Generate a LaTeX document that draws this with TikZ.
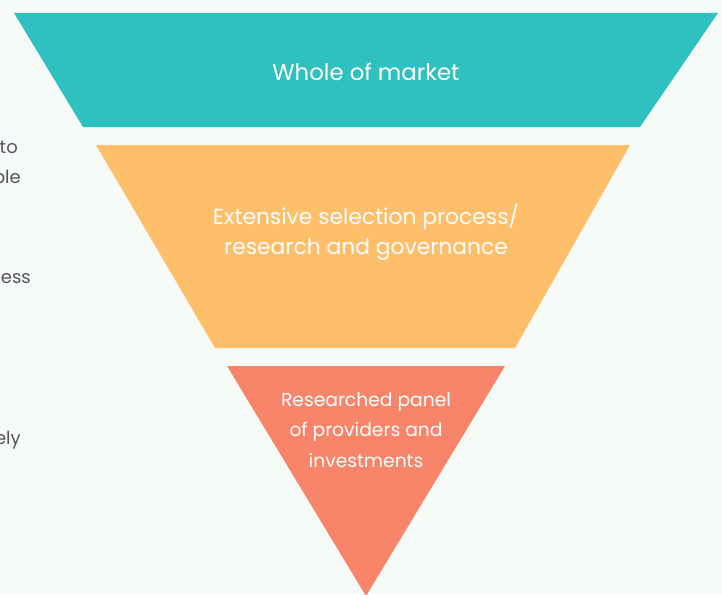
\documentclass[tikz,border=0pt]{standalone}
\usepackage{fontspec}
\setmainfont{Poppins}
\definecolor{bg}{HTML}{F7FBF7}
\definecolor{teal}{HTML}{2FC1C0}
\definecolor{orng}{HTML}{FFBE69}
\definecolor{salmon}{HTML}{F8846A}
\definecolor{greytext}{HTML}{555555}
\tikzset{
  lab/.style={text=white, align=center, inner sep=0pt},
  side/.style={text=greytext, anchor=east, inner sep=0pt, font=\fontsize{18}{20}\selectfont}
}
\begin{document}
\begin{tikzpicture}[x=1pt,y=-1pt]
\useasboundingbox (0,0) rectangle (722,594);
\fill[bg] (0,0) rectangle (722,594);
\fill[teal] (14,13) -- (718,13) -- (640,127) -- (83,127) -- cycle;
\fill[orng] (96,145) -- (630,145) -- (515,348) -- (215,348) -- cycle;
\fill[salmon] (227,366) -- (505,366) -- (366,596) -- cycle;
\node[lab, font=\fontsize{22.8}{30}\selectfont] (t1) at (366,72) {Whole of market};
\node[lab, font=\fontsize{21.8}{30}\selectfont] (t2) at (366,232) {Extensive selection process/\\research and governance};
\node[lab, font=\fontsize{18.7}{30.5}\selectfont] (t3) at (366,430) {Researched panel\\of providers and\\investments};
\node[side] (s1) at (18,147) {to};
\node[side] (s2) at (21,177) {ble};
\node[side] (s3) at (31,279) {ess};
\node[side] (s4) at (21,440) {ely};
\end{tikzpicture}
\end{document}
